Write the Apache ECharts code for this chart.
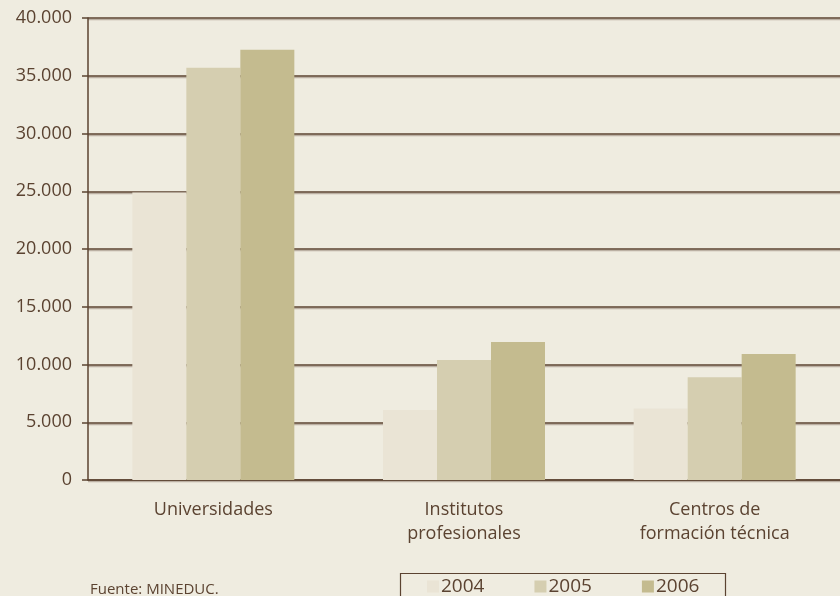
<!DOCTYPE html>
<html lang="es">
<head>
    <meta charset="UTF-8">
    <title>Matrícula</title>
    <style>
        html,body{margin:0;padding:0;background:#efece0;}
        #main{width:840px;height:596px;}
    </style>
</head>
<body>
<div id="main"></div>
<script src="https://cdn.jsdelivr.net/npm/echarts@6/dist/echarts.min.js"></script>
<script>
    const categories=['Universidades','Institutos\nprofesionales','Centros de\nformación técnica']
    const years=['2004','2005','2006']
    const v2004=[24900,6050,6200]
    const v2005=[35700,10400,8900]
    const v2006=[37250,11950,10900]
    const yTicks={min:0,max:40000,interval:5000}

    const brown='#5b4331'
    const colors=['#eae4d5','#d5ceb0','#c4bb8f']
    const font='Open Sans'

    // separador de miles con punto
    function fmt(v){
        return String(v).replace(/\B(?=(\d{3})+(?!\d))/g,'.')
    }

    const myChart=echarts.init(document.getElementById('main'))
    const option={
        backgroundColor:'#efece0',
        color:colors,
        textStyle:{fontFamily:font,color:brown},
        grid:{left:88,right:-4,top:18,bottom:116,containLabel:false},
        legend:{
            data:years,
            left:398,
            top:575,
            padding:[2,20,2,29],
            itemWidth:12,
            itemHeight:12,
            itemGap:50,
            icon:'rect',
            textStyle:{fontFamily:font,fontSize:19,color:brown,padding:[0,0,0,-3]}
        },
        graphic:[
            {type:'rect',left:398,top:571,shape:{width:325,height:40},
             style:{fill:'none',stroke:brown,lineWidth:1.2},silent:true},
            {type:'text',left:90,top:582,
             style:{text:'Fuente: MINEDUC.',fontFamily:font,fontSize:15,fill:brown}}
        ],
        xAxis:{
            type:'category',
            data:categories,
            axisLine:{show:true,lineStyle:{color:brown,width:1.5}},
            axisTick:{show:false},
            axisLabel:{color:brown,fontSize:18,fontFamily:font,margin:18,lineHeight:24,interval:0}
        },
        yAxis:{
            type:'value',
            min:yTicks.min,
            max:yTicks.max,
            interval:yTicks.interval,
            axisLine:{show:true,lineStyle:{color:brown,width:1.5}},
            axisTick:{show:true,length:6,lineStyle:{color:brown,width:1.5}},
            axisLabel:{color:brown,fontSize:18,fontFamily:font,margin:16,formatter:fmt},
            splitLine:{show:true,lineStyle:{color:brown,width:1.5,shadowColor:'rgba(91,67,49,0.35)',shadowOffsetY:1.5}}
        },
        series:[
            {name:'2004',type:'bar',data:v2004,barWidth:54,barGap:'0%'},
            {name:'2005',type:'bar',data:v2005,barWidth:54,barGap:'0%'},
            {name:'2006',type:'bar',data:v2006,barWidth:54,barGap:'0%'}
        ]
    }
    myChart.setOption(option)
</script>
</body>
</html>
